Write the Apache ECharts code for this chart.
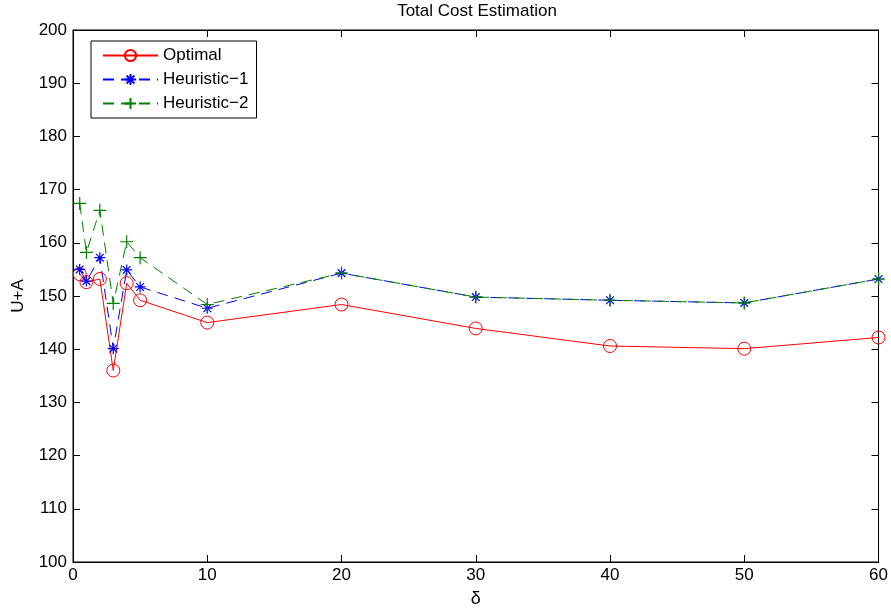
<!DOCTYPE html>
<html>
<head>
<meta charset="utf-8">
<script src="https://cdn.jsdelivr.net/npm/echarts@6/dist/echarts.min.js"></script>
<style>html,body{margin:0;padding:0;background:#fff;}#c{width:891px;height:613px;}</style>
</head>
<body>
<div id="c"></div>
<script>
var deltas = [0.5, 1, 2, 3, 4, 5, 10, 20, 30, 40, 50, 60];
var optimal = [154.1, 152.6, 153.2, 136.0, 152.4, 149.2, 145.0, 148.4, 143.9, 140.6, 140.1, 142.2];
var heuristic1 = [155.0, 152.8, 157.2, 140.1, 154.9, 151.7, 147.7, 154.3, 149.8, 149.2, 148.7, 153.2];
var heuristic2 = [167.4, 158.2, 166.1, 148.6, 160.2, 157.2, 148.4, 154.3, 149.8, 149.2, 148.7, 153.2];
var seriesNames = ['Optimal', 'Heuristic\u22121', 'Heuristic\u22122'];

function pairs(ys) { return deltas.map(function (x, i) { return [x, ys[i]]; }); }

var FONT = 'Liberation Sans, Arial, sans-serif';
var STAR = 'path://M0,5L10,5M5,0L5,10M1.5,1.5L8.5,8.5M8.5,1.5L1.5,8.5';
var PLUS = 'path://M0,5L10,5M5,0L5,10';
var COLORS = ['#ff0000', '#0000ff', '#008000'];
var DASH = [11, 7];

var chart = echarts.init(document.getElementById('c'), null, {renderer: 'canvas'});
function axisBase() {
  return {
    axisLine: {onZero: false, lineStyle: {color: '#000', width: 1}},
    axisTick: {inside: true, length: 7, lineStyle: {color: '#000'}},
    splitLine: {show: false}
  };
}
chart.setOption({
  animation: false,
  backgroundColor: '#fff',
  title: {
    text: 'Total Cost Estimation', left: 477, top: 3, textAlign: 'center', padding: 0,
    textStyle: {fontFamily: FONT, fontSize: 17, fontWeight: 'normal', color: '#000'}
  },
  grid: {left: 73, right: 12, top: 30, bottom: 50, show: true, borderColor: '#000', borderWidth: 1, backgroundColor: '#fff'},
  legend: {
    orient: 'vertical', left: 91, top: 41, align: 'left',
    backgroundColor: '#fff', borderColor: '#000', borderWidth: 1,
    padding: [6, 8, 6, 11], itemGap: 7, itemWidth: 55, itemHeight: 14,
    textStyle: {fontFamily: FONT, fontSize: 17, color: '#000'},
    data: seriesNames
  },
  xAxis: [
    Object.assign(axisBase(), {
      type: 'value', min: 0, max: 60, interval: 10, position: 'bottom',
      name: '\u03b4', nameLocation: 'middle', nameGap: 28,
      nameTextStyle: {fontFamily: FONT, fontSize: 18, color: '#000'},
      axisLabel: {margin: 5, fontFamily: FONT, fontSize: 17, color: '#000'}
    }),
    Object.assign(axisBase(), {
      type: 'value', min: 0, max: 60, interval: 10, position: 'top',
      axisLabel: {show: false}
    })
  ],
  yAxis: [
    Object.assign(axisBase(), {
      type: 'value', min: 100, max: 200, interval: 10, position: 'left',
      name: 'U+A', nameLocation: 'middle', nameGap: 46, nameRotate: 90,
      nameTextStyle: {fontFamily: FONT, fontSize: 17, color: '#000'},
      axisLabel: {margin: 6, fontFamily: FONT, fontSize: 17, color: '#000'}
    }),
    Object.assign(axisBase(), {
      type: 'value', min: 100, max: 200, interval: 10, position: 'right',
      axisLabel: {show: false}
    })
  ],
  series: [
    {
      name: seriesNames[0], type: 'line', data: pairs(optimal),
      symbol: 'circle', symbolSize: 13, showAllSymbol: true,
      lineStyle: {color: COLORS[0], width: 1},
      itemStyle: {color: 'rgba(0,0,0,0)', borderColor: COLORS[0], borderWidth: 1}
    },
    {
      name: seriesNames[1], type: 'line', data: pairs(heuristic1),
      symbol: STAR, symbolSize: 11, showAllSymbol: true,
      lineStyle: {color: COLORS[1], width: 1, type: DASH},
      itemStyle: {color: 'rgba(0,0,0,0)', borderColor: COLORS[1], borderWidth: 1.2}
    },
    {
      name: seriesNames[2], type: 'line', data: pairs(heuristic2),
      symbol: PLUS, symbolSize: 13, showAllSymbol: true,
      lineStyle: {color: COLORS[2], width: 1, type: DASH},
      itemStyle: {color: 'rgba(0,0,0,0)', borderColor: COLORS[2], borderWidth: 1.2}
    }
  ]
});
</script>
</body>
</html>
